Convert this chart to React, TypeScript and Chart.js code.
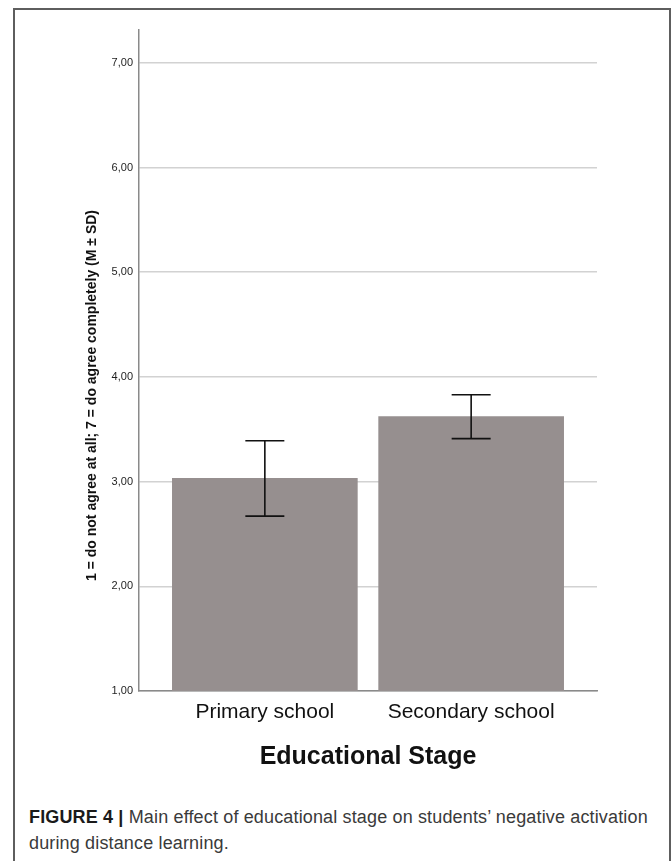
import React, { useEffect, useRef } from "react";
import { Chart, registerables } from "chart.js";

Chart.register(...registerables);

const categories = ["Primary school", "Secondary school"];
const means = [3.03, 3.62];
const sds = [0.36, 0.21];
const yTicks = [1, 2, 3, 4, 5, 6, 7];
const yTitle = "1 = do not agree at all; 7 = do agree completely (M ± SD)";
const xTitle = "Educational Stage";

const family = "'Liberation Sans', Arial, Helvetica, sans-serif";

export default function App() {
  const ref = useRef<HTMLCanvasElement>(null);

  useEffect(() => {
    if (!ref.current) return;
    const errorBars = {
      id: "errorBars",
      afterDatasetsDraw(chart: any) {
        const { ctx, scales } = chart;
        const x = scales.x;
        const y = scales.y;
        ctx.save();
        ctx.strokeStyle = "#111111";
        ctx.lineWidth = 1.6;
        means.forEach((m, i) => {
          const px = x.getPixelForValue(i);
          const top = y.getPixelForValue(m + sds[i]);
          const bot = y.getPixelForValue(m - sds[i]);
          const half = 19.5;
          ctx.beginPath();
          ctx.moveTo(px, top);
          ctx.lineTo(px, bot);
          ctx.moveTo(px - half, top);
          ctx.lineTo(px + half, top);
          ctx.moveTo(px - half, bot);
          ctx.lineTo(px + half, bot);
          ctx.stroke();
        });
        ctx.restore();
      },
    };
    const yTitlePlugin = {
      id: "yTitleCustom",
      afterDraw(chart: any) {
        const { ctx, chartArea } = chart;
        ctx.save();
        ctx.translate(chartArea.left - 47, (chartArea.top + chartArea.bottom) / 2 + 35);
        ctx.rotate(-Math.PI / 2);
        ctx.font = `bold 14px ${family}`;
        ctx.fillStyle = "#111111";
        ctx.textAlign = "center";
        ctx.textBaseline = "middle";
        ctx.fillText(yTitle, 0, 0);
        ctx.restore();
      },
    };

    const chart = new Chart(ref.current, {
      type: "bar",
      data: {
        datasets: [
          {
            data: means.map((m, i) => ({ x: i, y: m })),
            backgroundColor: "#968f8f",
            borderWidth: 0,
            barThickness: 185,
          },
        ],
      },
      options: {
        animation: false,
        responsive: false,
        maintainAspectRatio: false,
        layout: { padding: { left: 0, top: 30, right: 75, bottom: 0 } },
        plugins: { legend: { display: false }, tooltip: { enabled: false } },
        scales: {
          x: {
            type: "linear",
            min: -0.61,
            max: 1.61,
            offset: false,
            afterBuildTicks: (s: any) => {
              s.ticks = categories.map((_, i) => ({ value: i }));
            },
            afterFit: (s: any) => {
              s.height = 89;
            },
            grid: { display: false, drawTicks: false },
            border: { display: true, color: "#8a8a8a", width: 1.5 },
            ticks: {
              callback: (v: any) => categories[Number(v)] ?? "",
              font: { size: 21, family },
              color: "#111111",
              padding: 9,
              maxRotation: 0,
              autoSkip: false,
            },
            title: {
              display: true,
              text: xTitle,
              font: { size: 25, weight: "bold", family },
              color: "#111111",
              padding: { top: 0, bottom: 8 },
            },
          },
          y: {
            type: "linear",
            min: 1,
            max: 7.313,
            afterBuildTicks: (s: any) => {
              s.ticks = yTicks.map((v) => ({ value: v }));
            },
            afterFit: (s: any) => {
              s.width = 139;
            },
            grid: { color: "#d2d2d2", lineWidth: 1.5, drawTicks: false },
            border: { display: true, color: "#8a8a8a", width: 1.5 },
            ticks: {
              callback: (v: any) => Number(v).toFixed(2).replace(".", ","),
              font: { size: 11, family },
              color: "#1e1e1e",
              padding: 6,
            },
          },
        },
      } as any,
      plugins: [errorBars, yTitlePlugin],
    });
    return () => chart.destroy();
  }, []);

  return (
    <div
      style={{
        position: "absolute",
        left: 0,
        top: 0,
        width: 672,
        height: 861,
        overflow: "hidden",
        background: "#ffffff",
      }}
    >
      <div
        style={{
          position: "absolute",
          left: 13,
          top: 8,
          width: 654,
          height: 900,
          border: "2px solid #5e5e5e",
        }}
      />
      <canvas
        ref={ref}
        width={672}
        height={780}
        style={{ position: "absolute", left: 0, top: 0, width: 672, height: 780 }}
      />
      <div
        style={{
          position: "absolute",
          left: 29,
          top: 804,
          width: 630,
          fontFamily: family,
          fontSize: 18,
          lineHeight: "26px",
          letterSpacing: "0.15px",
          color: "#3a3a3a",
        }}
      >
        <span style={{ fontWeight: "bold", color: "#1a1a1a" }}>FIGURE 4 |</span> Main effect of
        educational stage on students’ negative activation during distance learning.
      </div>
    </div>
  );
}
